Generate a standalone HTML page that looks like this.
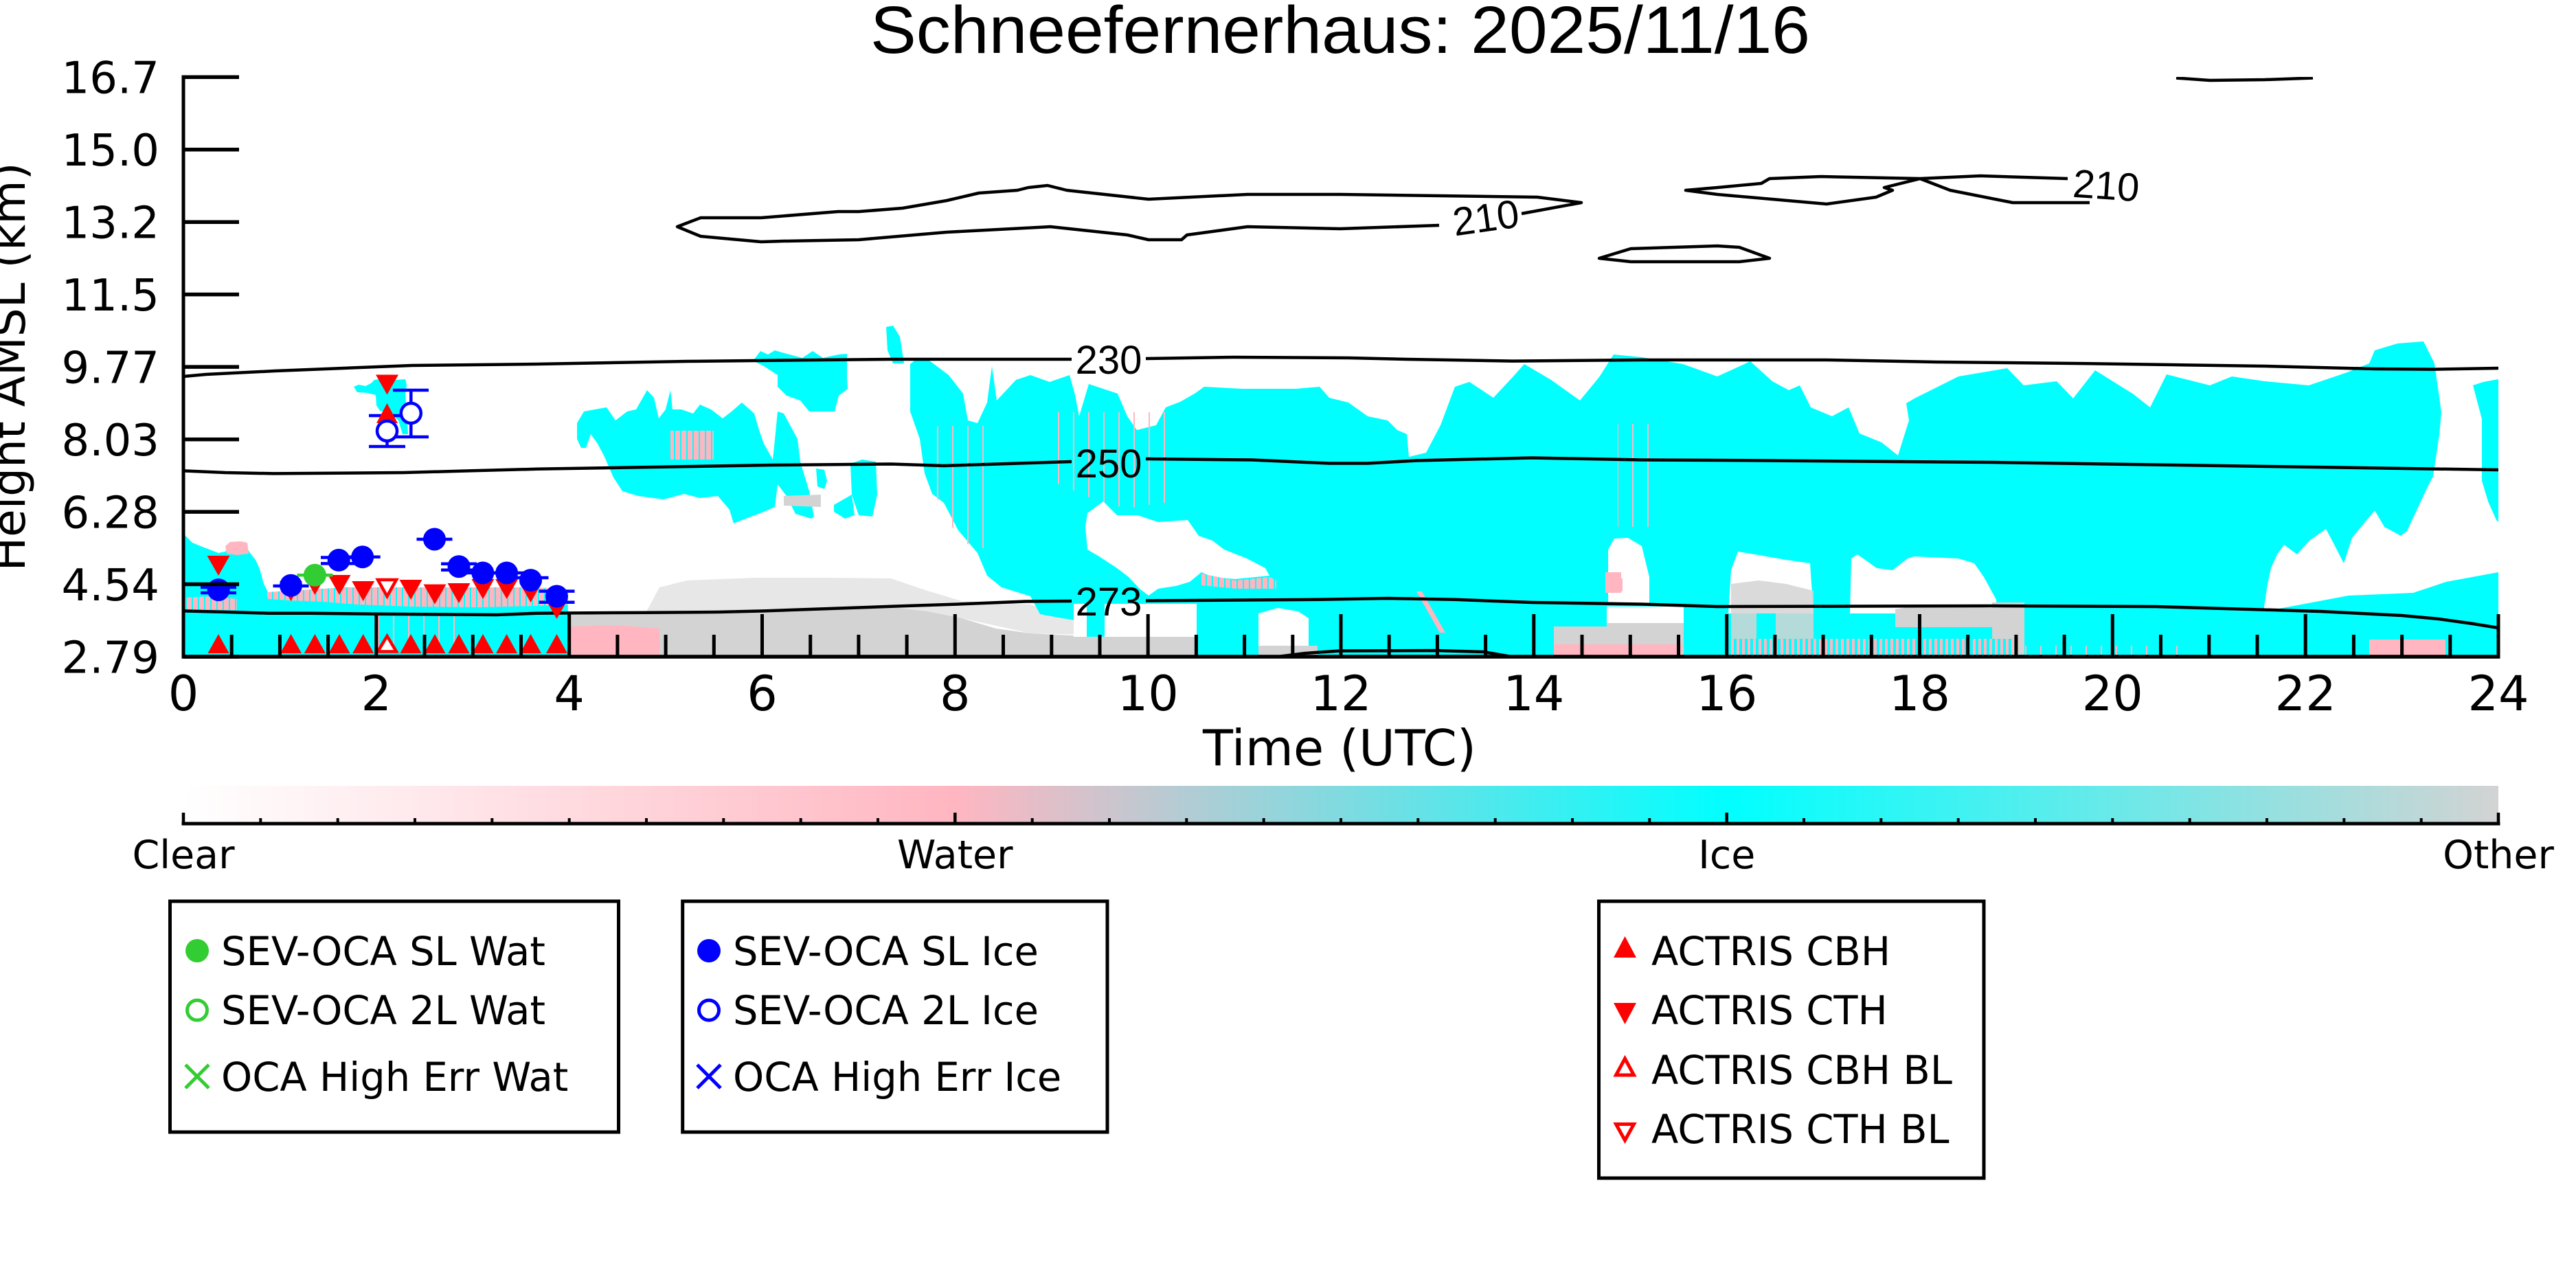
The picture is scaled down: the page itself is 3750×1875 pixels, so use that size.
<!DOCTYPE html>
<html><head><meta charset="utf-8">
<style>
html,body{margin:0;padding:0;background:#fff;}
svg{display:block;}
.dj{font-family:"DejaVu Sans","Liberation Sans",sans-serif;}
.lb{font-family:"Liberation Sans","DejaVu Sans",sans-serif;}
</style></head><body>
<svg xmlns="http://www.w3.org/2000/svg" width="3750" height="1875" viewBox="0 0 3750 1875">
<defs>
<linearGradient id="cb" x1="0" x2="1" y1="0" y2="0">
 <stop offset="0" stop-color="#ffffff"/>
 <stop offset="0.3333" stop-color="#ffb6c1"/>
 <stop offset="0.6667" stop-color="#00ffff"/>
 <stop offset="1" stop-color="#d3d3d3"/>
</linearGradient>
<pattern id="pkc" width="9" height="40" patternUnits="userSpaceOnUse"><rect width="9" height="40" fill="#ffb6c1"/><rect x="0" width="2" height="40" fill="#00ffff"/></pattern>
<pattern id="cpk" width="22" height="40" patternUnits="userSpaceOnUse"><rect x="0" width="2" height="40" fill="#ffb6c1"/></pattern>
<pattern id="cpk2" width="8" height="40" patternUnits="userSpaceOnUse"><rect width="8" height="40" fill="#00ffff"/><rect x="0" width="4" height="40" fill="#ffb6c1"/></pattern>
<clipPath id="pc"><rect x="267" y="112" width="3370" height="844"/></clipPath>
</defs>
<rect width="3750" height="1875" fill="#fff"/>

<!-- Title -->
<text class="lb" x="1951" y="77" font-size="97" text-anchor="middle" textLength="1368" lengthAdjust="spacingAndGlyphs">Schneefernerhaus: 2025/11/16</text>

<g clip-path="url(#pc)">
 <!-- gray low region -->
 <polygon fill="#d3d3d3" fill-opacity="0.55" points="940,892 960,855 1000,845 1100,841 1200,841 1297,842 1350,860 1400,875 1500,880 1560,900 1585,924 1500,922 1400,900 1297,884 959,893"/>
 <polygon fill="#d3d3d3" points="826,895 959,893 1000,890 1100,889 1200,888 1297,884 1350,890 1400,900 1450,915 1500,922 1560,925 1585,930 1600,957 826,957"/>
 <polygon fill="#ffb6c1" points="829,912 900,910 960,915 960,953 829,953"/>
 <!-- left low cloud 0-4h -->
 <polygon fill="#00ffff" points="267,777 272,782 280,790 292,795 305,800 318,805 328,803 332,795 345,792 358,795 364,805 372,815 378,828 384,850 390,862 400,865 430,862 460,858 500,855 560,856 620,856 700,856 760,856 800,858 826,860 829,957 267,957"/>
 <polygon fill="#ffb6c1" points="328,795 335,789 350,788 360,790 362,806 345,808 330,806"/>
 <polygon fill="url(#pkc)" points="388,862 420,860 470,857 520,855 600,855 700,855 780,855 826,858 826,880 780,882 700,884 600,883 520,880 470,876 420,874 390,872"/>
 <polygon fill="url(#pkc)" points="267,870 310,868 345,872 345,888 267,888"/>
 <rect x="547" y="896" width="116" height="55" fill="url(#cpk)"/>
 <!-- main mass -->
 <polygon fill="#00ffff" points="1325,530 1335,522 1353,525 1381,546 1402,573 1409,612 1423,616 1437,586 1444,533 1451,583 1479,553 1500,546 1528,556 1557,546 1565,575 1571,606 1585,559 1627,573 1641,606 1655,626 1683,619 1697,593 1718,585 1739,573 1753,563 1809,566 1851,566 1886,566 1921,563 1935,579 1963,586 1991,606 2020,612 2034,626 2048,632 2051,665 2076,659 2097,619 2118,563 2139,556 2174,579 2202,549 2219,530 2258,553 2300,583 2328,549 2349,516 2390,520 2450,530 2500,548 2548,526 2580,555 2604,568 2620,561 2636,593 2667,606 2691,593 2707,631 2739,644 2763,663 2779,612 2775,587 2787,580 2851,548 2922,536 2946,561 2994,555 3018,580 3050,539 3106,574 3130,593 3154,545 3217,561 3249,548 3297,555 3361,561 3417,542 3449,529 3457,510 3490,500 3528,497 3544,529 3554,600 3551,633 3542,693 3532,713 3518,743 3504,773 3495,780 3471,767 3457,743 3424,783 3412,820 3395,787 3386,770 3362,787 3344,807 3325,793 3315,807 3306,827 3301,850 3296,883 3296,890 3350,880 3419,867 3513,863 3561,847 3637,833 3637,957 1600,957 1585,924 1571,904 1535,898 1514,894 1500,868 1458,855 1437,838 1423,805 1395,772 1374,732 1357,719 1346,689 1339,639 1325,599"/>
 <polygon fill="#00ffff" points="3600,561 3615,556 3637,552 3637,760 3634,757 3622,730 3613,700 3613,610"/>
 <polygon fill="#00ffff" points="1290,476 1300,474 1310,490 1316,529 1300,529 1292,510"/>
 <!-- pink streaks in main -->
 <polygon fill="url(#cpk)" points="1346,620 1440,620 1440,800 1400,790 1370,740 1350,690"/>
 <polygon fill="url(#cpk)" points="1530,600 1710,600 1710,730 1640,740 1600,730 1530,700"/>
 <polygon fill="url(#cpk)" points="2355,617 2415,617 2415,767 2355,767"/>
 <!-- holes -->
 <polygon fill="#fff" points="1580,767 1583,747 1606,730 1619,743 1626,750 1656,750 1686,760 1729,757 1745,780 1765,787 1782,800 1815,813 1842,827 1848,838 1798,843 1765,840 1749,833 1732,847 1712,853 1686,857 1672,867 1659,857 1643,840 1626,827 1600,810 1583,800"/>
 <polygon fill="url(#pkc)" points="1749,835 1798,845 1848,840 1858,845 1858,857 1800,857 1749,852"/>
 <polygon fill="#fff" points="1563,879 1742,879 1742,927 1563,927"/>
 <rect x="1582" y="879" width="26" height="54" fill="#00ffff"/>
 <rect x="1500" y="927" width="242" height="29" fill="#d3d3d3"/>
 <polygon fill="#fff" points="1832,893 1860,885 1890,890 1905,900 1905,947 1832,947"/>
 <rect x="1832" y="940" width="86" height="16" fill="#d3d3d3"/>
 <polygon fill="#fff" points="2341,800 2350,784 2370,783 2390,795 2401,840 2401,880 2341,880"/>
 <rect x="2337" y="833" width="23" height="30" fill="#ffb6c1"/>
 <rect x="2339" y="883" width="112" height="24" fill="#fff"/>
 <polygon fill="#fff" points="2516,893 2520,830 2530,803 2560,808 2600,815 2635,820 2640,893"/>
 <polygon fill="#fff" points="2693,893 2695,813 2704,807 2732,827 2755,830 2777,813 2787,810 2851,813 2874,820 2888,840 2906,873 2907,893"/>
 <!-- gray / pink lower bits -->
 <polygon fill="#d3d3d3" fill-opacity="0.85" points="2520,850 2560,845 2600,850 2640,860 2640,953 2585,953 2585,893 2557,893 2557,953 2520,953"/>
 <polygon fill="#d3d3d3" points="2339,907 2451,907 2451,953 2339,953"/>
 <polygon fill="#d3d3d3" points="2262,912 2339,912 2339,950 2262,950"/>
 <polygon fill="#d3d3d3" points="2759,887 2800,880 2900,885 2906,913 2759,913"/>
 <polygon fill="#d3d3d3" points="2900,877 2947,877 2947,953 2900,953"/>
 <rect x="2262" y="938" width="187" height="18" fill="#ffb6c1"/>
 <rect x="2518" y="930" width="412" height="26" fill="url(#cpk2)"/>
 <rect x="2930" y="940" width="250" height="16" fill="url(#cpk)"/>
 <rect x="3449" y="931" width="111" height="25" fill="#ffb6c1"/>
 <rect x="2338" y="842" width="24" height="19" fill="#ffb6c1"/>
 <polygon fill="#ffb6c1" points="2062,861 2070,861 2104,921 2096,921"/>
 <!-- mid clouds -->
 <polygon fill="#00ffff" points="840,616 850,599 866,596 883,593 896,612 913,599 926,596 942,568 952,579 959,609 969,596 976,568 979,596 992,596 1009,602 1019,589 1035,596 1052,609 1065,599 1080,586 1098,602 1105,626 1112,646 1125,669 1128,640 1132,599 1141,602 1161,639 1165,672 1171,692 1178,715 1185,752 1181,755 1158,748 1145,722 1132,705 1128,738 1112,745 1078,758 1068,762 1062,742 1045,722 1019,725 996,719 966,727 929,722 906,715 893,695 880,665 870,646 860,632 853,652 846,652 840,639"/>
 <rect x="976" y="627" width="63" height="42" fill="url(#pkc)"/>
 <polygon fill="#00ffff" points="1098,523 1107,511 1118,516 1128,510 1138,513 1168,521 1183,511 1198,521 1221,516 1233,515 1233,550 1234,566 1221,576 1215,599 1178,599 1165,583 1145,576 1132,563 1132,546 1112,533 1098,526"/>
 <polygon fill="#00ffff" points="1188,682 1200,684 1204,700 1200,712 1190,708"/>
 <polygon fill="#00ffff" points="1214,735 1240,720 1244,750 1230,755 1214,745"/>
 <polygon fill="#00ffff" points="1238,675 1255,669 1275,672 1277,720 1270,752 1250,750 1240,720"/>
 <polygon fill="#d3d3d3" points="1141,722 1195,720 1195,738 1141,736"/>
 <polygon fill="#00ffff" points="515,563 522,560 532,562 540,558 545,553 560,551 575,553 590,552 592,560 590,575 592,600 594,632 586,632 580,612 572,605 562,600 553,598 548,590 547,575 535,572 520,571"/>

 <!-- contours -->
 <g fill="none" stroke="#000" stroke-width="4.5" stroke-linejoin="round">
  <polyline points="267,548 300,545 400,540 500,536 600,532 782,530 1000,526 1297,523 1400,523 1560,523"/>
  <polyline points="1668,522 1795,520 1963,521 2048,523 2202,525.6 2390,524 2500,524 2659,524 2819,527 3018,529 3162,531 3297,533 3457,537 3544,537.6 3637,536"/>
  <polyline points="267,685.4 328,688 398,689.4 587,688 683,685.4 782,682.8 1125,677 1297,675.5 1374,678 1560,672"/>
  <polyline points="1668,668 1823,669.5 1935,674.5 1991,674.5 2062,670.5 2230,666.5 2390,669.5 2500,670 2900,673 3300,679 3637,684"/>
  <polyline points="267,889.4 331,891 391,892.7 451,892.7 544,893.7 723,895 782,892.7 946,891.7 1045,891 1112,889.4 1297,882.8 1395,879.5 1493,875.5 1560,875"/>
  <polyline points="1668,874.5 1921,872.8 2020,871 2118,872.8 2230,877 2390,879.5 2500,883 2899,882 3138,883 3377,890 3496,896 3550,901 3600,908 3637,914"/>
  <polyline points="1860,956 1900,951 1950,947.5 2090,947 2160,949 2200,956"/>
  <polyline points="2215,311 2302,295 2238,287 1951,283 1816,283 1672,290 1553,277 1525,270 1497,273 1481,277 1425,281 1378,292 1314,303 1250,308 1220,308 1108,317 1020,317 986,330 1020,344 1108,352 1140,351 1250,349 1378,338 1529,330 1641,342 1672,349 1720,349 1728,342 1816,330 1951,333 2095,328"/>
  <polygon points="2328,376 2374,362 2500,358 2532,360 2576,376 2532,381 2500,381 2374,381"/>
  <polyline points="3010,260 2883,256 2795,260 2651,257 2576,260 2564,267 2500,273 2454,277 2500,283 2659,297 2731,287 2755,277 2743,273 2795,260 2839,277 2930,295 3042,295"/>
  <polyline points="3168,113.5 3217,117 3297,116 3367,113.5"/>
 </g>
 <g class="lb" font-size="58" text-anchor="middle" fill="#000">
  <text x="1614" y="544">230</text>
  <text x="1614" y="695">250</text>
  <text x="1614" y="896">273</text>
  <text x="2163" y="337" transform="rotate(-8 2163 317)">210</text>
  <text x="3066" y="290" transform="rotate(4 3066 270)">210</text>
 </g>

 <!-- markers: open circles with error bars -->
 <g stroke="#0000ff" stroke-width="4.5" fill="none">
  <line x1="563.5" y1="605" x2="563.5" y2="650"/>
  <line x1="537" y1="605" x2="590" y2="605"/>
  <line x1="537" y1="650" x2="590" y2="650"/>
  <line x1="598.3" y1="568" x2="598.3" y2="636"/>
  <line x1="572" y1="568" x2="624" y2="568"/>
  <line x1="572" y1="636" x2="624" y2="636"/>
 </g>
 <!-- red triangles -->
 <g fill="#ff0000">
  <polygon points="547,545.5 580,545.5 563.5,574.5"/>
  <polygon points="548,616 579,616 563.5,587"/>
  <polygon points="301.5,809 334.5,809 318,838"/>
  <polygon points="407,846 440,846 423.5,875"/>
  <polygon points="442,837 475,837 458.4,866"/>
  <polygon points="477.5,837 510.5,837 494,866"/>
  <polygon points="512.2,846 545.2,846 528.7,875"/>
  <polygon points="581.5,844 614.5,844 598,873"/>
  <polygon points="616.5,850.6 649.5,850.6 633,879.6"/>
  <polygon points="651.5,849 684.5,849 668,878"/>
  <polygon points="686.5,843 719.5,843 703,872"/>
  <polygon points="721.1,843 754.1,843 737.6,872"/>
  <polygon points="756,848 789,848 772.5,877"/>
  <polygon points="794,872 827,872 810.5,901"/>
  <polygon points="302.5,951 333.5,951 318,923"/>
  <polygon points="408,951 439,951 423.5,923"/>
  <polygon points="442.9,951 473.9,951 458.4,923"/>
  <polygon points="478.5,951 509.5,951 494,923"/>
  <polygon points="513.2,951 544.2,951 528.7,923"/>
  <polygon points="582.5,951 613.5,951 598,923"/>
  <polygon points="617.5,951 648.5,951 633,923"/>
  <polygon points="652.5,951 683.5,951 668,923"/>
  <polygon points="687.5,951 718.5,951 703,923"/>
  <polygon points="722.1,951 753.1,951 737.6,923"/>
  <polygon points="757,951 788,951 772.5,923"/>
  <polygon points="795,951 826,951 810.5,923"/>
 </g>
 <g fill="#fff" stroke="#ff0000" stroke-width="4.5">
  <polygon points="550,844 577,844 563.5,868"/>
  <polygon points="550,948.5 577,948.5 563.5,926"/>
 </g>
 <!-- open circles -->
 <g fill="#fff" stroke="#0000ff" stroke-width="4.5">
  <circle cx="563.5" cy="627.4" r="14.5"/>
  <circle cx="598.3" cy="601.5" r="14.5"/>
 </g>
 <!-- filled circles with cap bars -->
 <g stroke="#0000ff" stroke-width="4.5">
  <line x1="292" y1="855" x2="344" y2="855"/><line x1="292" y1="863" x2="344" y2="863"/>
  <line x1="397.5" y1="853" x2="449.5" y2="853"/>
  <line x1="467" y1="811.5" x2="519" y2="811.5"/><line x1="467" y1="820.4" x2="519" y2="820.4"/>
  <line x1="501.7" y1="810.8" x2="553.7" y2="810.8"/>
  <line x1="606.5" y1="785" x2="658.5" y2="785"/>
  <line x1="642" y1="820.8" x2="694" y2="820.8"/><line x1="642" y1="829.7" x2="694" y2="829.7"/>
  <line x1="676.8" y1="834" x2="728.8" y2="834"/>
  <line x1="711.6" y1="834" x2="763.6" y2="834"/>
  <line x1="746.5" y1="841" x2="798.5" y2="841"/>
  <line x1="784.5" y1="860.6" x2="836.5" y2="860.6"/><line x1="784.5" y1="876.8" x2="836.5" y2="876.8"/>
 </g>
 <line x1="432.4" y1="837.3" x2="484.4" y2="837.3" stroke="#32cd32" stroke-width="4.5"/>
 <g fill="#0000ff">
  <circle cx="318.1" cy="858.6" r="16.5"/>
  <circle cx="423.5" cy="852.3" r="16.5"/>
  <circle cx="493.2" cy="815.4" r="16.5"/>
  <circle cx="527.7" cy="810.8" r="16.5"/>
  <circle cx="632.5" cy="785" r="16.5"/>
  <circle cx="668" cy="824.7" r="16.5"/>
  <circle cx="702.8" cy="834" r="16.5"/>
  <circle cx="737.6" cy="834" r="16.5"/>
  <circle cx="772.5" cy="844.6" r="16.5"/>
  <circle cx="810.5" cy="868" r="16.5"/>
 </g>
 <circle cx="458.4" cy="837.3" r="16.5" fill="#32cd32"/>
</g>

<!-- axes: ticks and spines -->
<g stroke="#000" fill="none">
 <path stroke-width="5.5" d="M267 112.2H348M267 217.7H348M267 323.2H348M267 428.6H348M267 534.1H348M267 639.6H348M267 745.1H348M267 850.5H348M267 956H348"/>
 <path stroke-width="5" d="M547.8 956V894M828.7 956V894M1109.5 956V894M1390.3 956V894M1671.2 956V894M1952 956V894M2232.8 956V894M2513.7 956V894M2794.5 956V894M3075.3 956V894M3356.2 956V894M3637 956V894"/>
 <path stroke-width="5" d="M337.2 956V924M407.4 956V924M477.6 956V924M618 956V924M688.3 956V924M758.5 956V924M898.9 956V924M969.1 956V924M1039.3 956V924M1179.7 956V924M1249.9 956V924M1320.1 956V924M1460.5 956V924M1530.8 956V924M1601 956V924M1741.4 956V924M1811.6 956V924M1881.8 956V924M2022.2 956V924M2092.4 956V924M2162.6 956V924M2303 956V924M2373.3 956V924M2443.5 956V924M2583.9 956V924M2654.1 956V924M2724.3 956V924M2864.7 956V924M2934.9 956V924M3005.1 956V924M3145.5 956V924M3215.8 956V924M3286 956V924M3426.4 956V924M3496.6 956V924M3566.8 956V924"/>
 <line x1="267" y1="109.5" x2="267" y2="958.5" stroke-width="5"/>
 <line x1="264.5" y1="956" x2="3639.5" y2="956" stroke-width="5.5"/>
</g>

<!-- tick labels -->
<g class="dj" font-size="64" text-anchor="end" fill="#000">
 <text x="232" y="135.5">16.7</text>
 <text x="232" y="241">15.0</text>
 <text x="232" y="346.5">13.2</text>
 <text x="232" y="452">11.5</text>
 <text x="232" y="557.5">9.77</text>
 <text x="232" y="663">8.03</text>
 <text x="232" y="768.5">6.28</text>
 <text x="232" y="874">4.54</text>
 <text x="232" y="979.5">2.79</text>
</g>
<g class="dj" font-size="70" text-anchor="middle" fill="#000">
 <text x="267" y="1034">0</text>
 <text x="547.8" y="1034">2</text>
 <text x="828.7" y="1034">4</text>
 <text x="1109.5" y="1034">6</text>
 <text x="1390.3" y="1034">8</text>
 <text x="1671.2" y="1034">10</text>
 <text x="1952" y="1034">12</text>
 <text x="2232.8" y="1034">14</text>
 <text x="2513.7" y="1034">16</text>
 <text x="2794.5" y="1034">18</text>
 <text x="3075.3" y="1034">20</text>
 <text x="3356.2" y="1034">22</text>
 <text x="3637" y="1034">24</text>
</g>
<text class="dj" x="1950" y="1114" font-size="72" text-anchor="middle">Time (UTC)</text>
<text class="dj" font-size="66" text-anchor="middle" transform="translate(36,534) rotate(-90)">Height AMSL (km)</text>

<!-- colorbar -->
<rect x="267" y="1144" width="3370" height="53" fill="url(#cb)"/>
<g stroke="#000" fill="none">
 <line x1="264.5" y1="1199" x2="3639.5" y2="1199" stroke-width="5"/>
 <path stroke-width="4.5" d="M267 1200V1183M1390.3 1200V1183M2513.7 1200V1183M3637 1200V1183"/>
 <path stroke-width="4" d="M379.3 1200V1191M491.7 1200V1191M604 1200V1191M716.3 1200V1191M828.7 1200V1191M941 1200V1191M1053.3 1200V1191M1165.7 1200V1191M1278 1200V1191M1502.7 1200V1191M1615 1200V1191M1727.3 1200V1191M1839.7 1200V1191M1952 1200V1191M2064.3 1200V1191M2176.7 1200V1191M2289 1200V1191M2401.3 1200V1191M2626 1200V1191M2738.3 1200V1191M2850.7 1200V1191M2963 1200V1191M3075.3 1200V1191M3187.7 1200V1191M3300 1200V1191M3412.3 1200V1191M3524.7 1200V1191"/>
</g>
<g class="dj" font-size="57" text-anchor="middle" fill="#000">
 <text x="267" y="1264">Clear</text>
 <text x="1390.3" y="1264">Water</text>
 <text x="2513.7" y="1264">Ice</text>
 <text x="3637" y="1264">Other</text>
</g>

<!-- legends -->
<g fill="#fff" stroke="#000" stroke-width="5">
 <rect x="247.5" y="1312" width="653" height="336"/>
 <rect x="993.7" y="1312" width="618.3" height="336"/>
 <rect x="2327.5" y="1312" width="560.5" height="403"/>
</g>
<circle cx="287" cy="1384" r="17" fill="#32cd32"/>
<circle cx="287" cy="1470.6" r="14.5" fill="#fff" stroke="#32cd32" stroke-width="5"/>
<path d="M270 1550L304 1584M304 1550L270 1584" stroke="#32cd32" stroke-width="5"/>
<circle cx="1032" cy="1384" r="17" fill="#0000ff"/>
<circle cx="1032" cy="1470.6" r="14.5" fill="#fff" stroke="#0000ff" stroke-width="5"/>
<path d="M1015 1550L1049 1584M1049 1550L1015 1584" stroke="#0000ff" stroke-width="5"/>
<polygon points="2349,1394 2382,1394 2365.5,1363" fill="#ff0000"/>
<polygon points="2349,1460 2382,1460 2365.5,1491" fill="#ff0000"/>
<polygon points="2352.5,1565 2378.5,1565 2365.5,1541" fill="#fff" stroke="#ff0000" stroke-width="5"/>
<polygon points="2352.5,1636.5 2378.5,1636.5 2365.5,1660" fill="#fff" stroke="#ff0000" stroke-width="5"/>
<g class="dj" font-size="57.5" fill="#000">
 <text x="322" y="1405">SEV-OCA SL Wat</text>
 <text x="322" y="1491">SEV-OCA 2L Wat</text>
 <text x="322" y="1588">OCA High Err Wat</text>
 <text x="1067" y="1405">SEV-OCA SL Ice</text>
 <text x="1067" y="1491">SEV-OCA 2L Ice</text>
 <text x="1067" y="1588">OCA High Err Ice</text>
 <text x="2404" y="1405">ACTRIS CBH</text>
 <text x="2404" y="1491">ACTRIS CTH</text>
 <text x="2404" y="1578">ACTRIS CBH BL</text>
 <text x="2404" y="1664">ACTRIS CTH BL</text>
</g>
</svg>
</body></html>
